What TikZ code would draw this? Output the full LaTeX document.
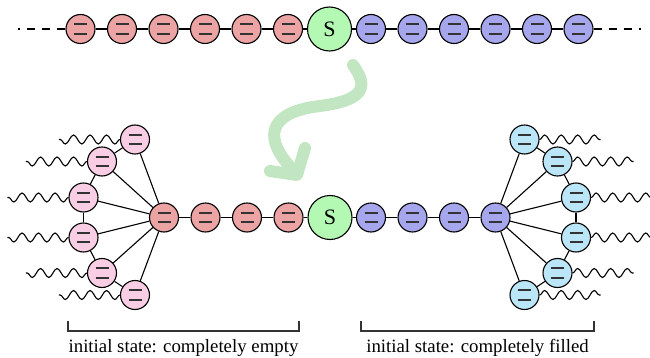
\documentclass[tikz,border=0pt]{standalone}
\usepackage{fontspec}
\setmainfont{Liberation Serif}
\usetikzlibrary{decorations.pathmorphing}
\definecolor{cred}{HTML}{EBA3A3}
\definecolor{cblue}{HTML}{A6A6EC}
\definecolor{cgreen}{HTML}{B3F8B3}
\definecolor{cpink}{HTML}{F9CDE3}
\definecolor{ccyan}{HTML}{BAE6F8}
\definecolor{carrow}{HTML}{C2E6C2}
\tikzset{
  basenode/.style={circle, draw=black, line width=1.1pt, minimum size=29pt, inner sep=0pt,
    path picture={\draw[line width=2pt, black!80]
      ([xshift=-6.5pt,yshift=4.8pt]path picture bounding box.center) -- ++(13pt,0pt)
      ([xshift=-6.5pt,yshift=-4.8pt]path picture bounding box.center) -- ++(13pt,0pt);}},
  rednode/.style={basenode, fill=cred},
  bluenode/.style={basenode, fill=cblue},
  pinknode/.style={basenode, fill=cpink},
  cyannode/.style={basenode, fill=ccyan},
  snode/.style={circle, draw=black, line width=1.1pt, fill=cgreen, minimum size=44pt, inner sep=0pt,
    font=\fontsize{22}{26}\selectfont},
  link/.style={line width=1.1pt},
  wavy/.style={line width=1.1pt, decorate, decoration={snake, amplitude=4.5pt, segment length=16.5pt}},
  bracket/.style={line width=1.1pt, black!80},
  caption/.style={font=\fontsize{18.8}{22}\selectfont, anchor=base, inner sep=0pt},
}
\begin{document}
\begin{tikzpicture}[x=1pt,y=-1pt]
\useasboundingbox (0,0) rectangle (650,358);
% green arrow
\draw[carrow, line width=12pt, line cap=round, line join=round]
  (353,65) .. controls (368,86) and (366,100) .. (320,106)
  .. controls (268,112) and (260,138) .. (297,174);
\draw[carrow, line width=12pt, line cap=round, line join=round]
  (270,171) -- (297,175) -- (305,148);
% top row
\foreach \i in {1,...,6} \node[rednode] (tr\i) at ({288-41.5*(6-\i)},29) {};
\node[snode] (ts) at (329.5,29) {S};
\foreach \i in {1,...,6} \node[bluenode] (tb\i) at ({371+41.5*(\i-1)},29) {};
\foreach \i [evaluate=\i as \j using int(\i+1)] in {1,...,5} {
  \draw[link] (tr\i) -- (tr\j);
  \draw[link] (tb\i) -- (tb\j);
}
\draw[link] (tr6) -- (ts);
\draw[link] (ts) -- (tb1);
\coordinate (tl) at (18,29);
\coordinate (tre) at (641,29);
\draw[link, dash pattern=on 8pt off 7pt] (tr1) -- (tl);
\draw[link, dash pattern=on 8pt off 7pt] (tb6) -- (tre);
% bottom row
\foreach \i in {1,...,4} \node[rednode] (br\i) at ({164+41.5*(\i-1)},217.5) {};
\node[snode] (bs) at (330,217.5) {S};
\foreach \i in {1,...,4} \node[bluenode] (bb\i) at ({371+41.5*(\i-1)},217.5) {};
\foreach \i [evaluate=\i as \j using int(\i+1)] in {1,...,3} {
  \draw[link] (br\i) -- (br\j);
  \draw[link] (bb\i) -- (bb\j);
}
\draw[link] (br4) -- (bs);
\draw[link] (bs) -- (bb1);
% left cluster
\node[pinknode] (p1) at (135,139.5) {};
\node[pinknode] (p2) at (102,161.5) {};
\node[pinknode] (p3) at (83.5,197.5) {};
\node[pinknode] (p4) at (83.5,237.5) {};
\node[pinknode] (p5) at (102,273) {};
\node[pinknode] (p6) at (135,295) {};
% right cluster
\node[cyannode] (c1) at (524.5,139.5) {};
\node[cyannode] (c2) at (557.5,161.5) {};
\node[cyannode] (c3) at (576,197.5) {};
\node[cyannode] (c4) at (576,237.5) {};
\node[cyannode] (c5) at (557.5,273) {};
\node[cyannode] (c6) at (524.5,295) {};
\foreach \i in {1,...,6} {
  \draw[link] (br1) -- (p\i);
  \draw[link] (bb4) -- (c\i);
  \draw[wavy] (p\i.west) -- ++(-61,0);
  \draw[wavy] (c\i.east) -- ++(61,0);
}
\foreach \i [evaluate=\i as \j using int(\i+1)] in {1,...,5} {
  \draw[link] (p\i) -- (p\j);
  \draw[link] (c\i) -- (c\j);
}
% brackets and captions
\coordinate (la) at (68,321); \coordinate (lb) at (68,331);
\coordinate (lc) at (299,331); \coordinate (ld) at (299,321);
\coordinate (ra) at (361,321); \coordinate (rb) at (361,331);
\coordinate (rc) at (594,331); \coordinate (rd) at (594,321);
\draw[bracket] (la) -- (lb) -- (lc) -- (ld);
\draw[bracket] (ra) -- (rb) -- (rc) -- (rd);
\node[caption] (lcap) at (183.5,352) {initial state: completely empty};
\node[caption] (rcap) at (477.5,352) {initial state: completely filled};
\end{tikzpicture}
\end{document}
